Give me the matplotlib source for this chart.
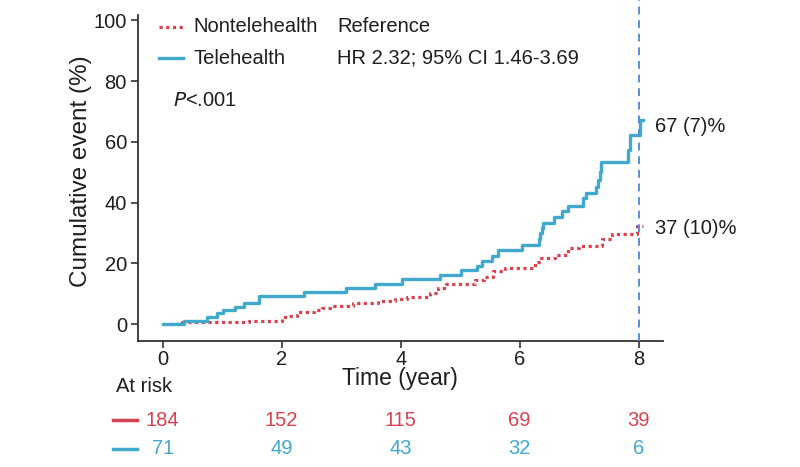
import matplotlib
matplotlib.use("Agg")
import matplotlib.pyplot as plt
from matplotlib.lines import Line2D
from matplotlib.transforms import blended_transform_factory

plt.rcParams['font.family'] = ['Liberation Sans', 'DejaVu Sans']

# ---- data ----
tele_t = [0, 0.35, 0.74, 0.91, 1.02, 1.21, 1.37, 1.62, 2.38, 3.08, 3.57, 4.03, 4.66,
          5.01, 5.28, 5.36, 5.53, 5.64, 6.04, 6.33, 6.35, 6.38, 6.40, 6.57, 6.72, 6.82,
          7.07, 7.11, 7.29, 7.31, 7.35, 7.37, 7.82, 7.85, 8.03]
tele_v = [0, 1.0, 2.4, 3.5, 4.6, 5.7, 6.8, 9.2, 10.4, 11.9, 13.3, 14.8, 16.1,
          17.8, 19.2, 20.9, 22.5, 24.4, 26.0, 27.9, 29.9, 31.5, 33.2, 35.2, 37.1, 39.0,
          41.5, 43.2, 45.2, 47.5, 50.0, 53.4, 57.3, 62.2, 67.1]
tele_end = 8.07

non_t = [0, 0.33, 1.45, 2.00, 2.10, 2.25, 2.55, 2.67, 2.82, 3.20, 3.62, 3.90, 4.10,
         4.50, 4.62, 4.77, 5.25, 5.40, 5.56, 5.75, 6.26, 6.36, 6.60, 6.82, 7.00, 7.38,
         7.55, 7.98]
non_v = [0, 0.5, 1.1, 2.2, 2.7, 3.8, 4.6, 5.2, 6.0, 6.8, 7.6, 8.2, 8.8,
         10.3, 11.8, 13.1, 14.5, 15.6, 17.6, 18.3, 20.5, 21.6, 22.7, 24.9, 25.7, 27.9,
         29.6, 32.3]
non_end = 8.07

risk_times = [0, 2, 4, 6, 8]
risk_non = [184, 152, 115, 69, 39]
risk_tele = [71, 49, 43, 32, 6]

x_ticks = [0, 2, 4, 6, 8]
y_ticks = [0, 20, 40, 60, 80, 100]

label_non = "Nontelehealth"
label_tele = "Telehealth"
end_non = "37 (10)%"
end_tele = "67 (7)%"

RED = "#D6424F"
BLUE = "#41A9CC"
VLINE = "#5A8ED8"
TXT = "#1E1E1E"
W, H = 800, 467

def fx(x):
    return x / W

def fy(y):
    return 1 - y / H

fig = plt.figure(figsize=(8, 4.67), dpi=100)
ax = fig.add_axes([fx(138), fy(341), fx(663) - fx(138), fy(15) - fy(341)])

ax.step(non_t + [non_end], non_v + [non_v[-1]], where='post', color=RED, lw=2.3,
        linestyle=(0, (1, 1.1)), zorder=3)
ax.step(tele_t + [tele_end], tele_v + [tele_v[-1]], where='post', color=BLUE, lw=2.4,
        zorder=4)

ax.set_xlim(-0.415, 8.41)
ax.set_ylim(-5.6, 101.8)
ax.axvline(8.01, ymin=0, ymax=341 / (341 - 15), color=VLINE, lw=1.4,
           linestyle=(0, (4, 3)), clip_on=False, zorder=5)

ax.set_xticks(x_ticks)
ax.set_yticks(y_ticks)
ax.tick_params(axis='both', labelsize=14.5, length=5, width=1.2, color='#333333',
               labelcolor=TXT, pad=3)
ax.tick_params(axis='x', pad=1.5)
for s in ['top', 'right']:
    ax.spines[s].set_visible(False)
for s in ['left', 'bottom']:
    ax.spines[s].set_linewidth(1.3)
    ax.spines[s].set_color('#333333')

ax.set_ylabel("Cumulative event (%)", fontsize=17.5, color=TXT)
ax.yaxis.set_label_coords(-0.087, (341 - 171) / (341 - 15))
ax.set_xlabel("Time (year)", fontsize=16.5, color=TXT)
ax.xaxis.set_label_coords((400 - 138) / (663 - 138), -(379 - 341) / (341 - 15))
ax.xaxis.label.set_va('center')

# legend (manual)
fig.add_artist(Line2D([fx(159), fx(183)], [fy(27), fy(27)], color=RED, lw=2.3,
                      linestyle=(0, (1, 1.1))))
fig.add_artist(Line2D([fx(159), fx(183)], [fy(57.5), fy(57.5)], color=BLUE, lw=2.4))
fig.text(fx(193), fy(27), label_non, fontsize=14.5, va='center', ha='left', color=TXT)
fig.text(fx(193), fy(58), label_tele, fontsize=14.5, va='center', ha='left', color=TXT)
fig.text(fx(337), fy(27), "Reference", fontsize=14.5, va='center', ha='left', color=TXT)
fig.text(fx(337), fy(58), "HR 2.32; 95% CI 1.46-3.69", fontsize=14.5, va='center',
         ha='left', color=TXT)
fig.text(fx(173), fy(100), r"$\it{P}$<.001", fontsize=14.5, va='center', ha='left',
         color=TXT)

# end annotations
fig.text(fx(655), fy(127), end_tele, fontsize=14.5, va='center', ha='left', color=TXT)
fig.text(fx(655), fy(228), end_non, fontsize=14.5, va='center', ha='left', color=TXT)

# at-risk table
tr = blended_transform_factory(ax.transData, fig.transFigure)
fig.text(fx(144), fy(387), "At risk", fontsize=14.5, va='center', ha='center', color=TXT)
for t, n in zip(risk_times, risk_non):
    ax.text(t, fy(420), str(n), transform=tr, fontsize=14.5, ha='center', va='center',
            color=RED, clip_on=False)
for t, n in zip(risk_times, risk_tele):
    ax.text(t, fy(449), str(n), transform=tr, fontsize=14.5, ha='center', va='center',
            color=BLUE, clip_on=False)
fig.add_artist(Line2D([fx(113), fx(137)], [fy(420), fy(420)], color=RED, lw=2.5))
fig.add_artist(Line2D([fx(113), fx(137)], [fy(449), fy(449)], color=BLUE, lw=2.5))

fig.savefig("out.png", dpi=100)
